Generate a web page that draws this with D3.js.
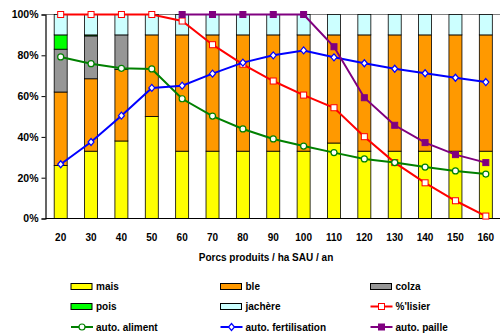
<!DOCTYPE html>
<html>
<head>
<meta charset="utf-8">
<script src="https://cdn.jsdelivr.net/npm/d3@7"></script>
<style>
  html, body { margin: 0; padding: 0; background: #fff; }
  svg { display: block; font-family: "Liberation Sans", Arial, sans-serif; }
</style>
</head>
<body>
<svg id="chart" width="500" height="335"></svg>
<script>
// Porcs produits par ha de SAU : assolement et autonomies
const categories = ["20","30","40","50","60","70","80","90","100","110","120","130","140","150","160"];

// Assolement (% de la SAU)
const mais    = [26, 33, 38, 50, 33, 33, 33, 33, 33, 37, 33, 33, 33, 33, 33];
const ble     = [36, 35.5, 35, 40, 57, 57, 57, 57, 57, 53, 57, 57, 57, 57, 57];
const colza   = [21, 21, 17, 0, 0, 0, 0, 0, 0, 0, 0, 0, 0, 0, 0];
const pois    = [7, 0.5, 0, 0, 0, 0, 0, 0, 0, 0, 0, 0, 0, 0, 0];
const jachere = [10, 10, 10, 10, 10, 10, 10, 10, 10, 10, 10, 10, 10, 10, 10];

// Indicateurs (%)
const lisier        = [100, 100, 100, 100, 96.8, 85.2, 75.6, 67.4, 60.5, 54.3, 40.1, 27.4, 17.5, 8.7, 1.2];
const autoAliment   = [79.2, 75.9, 73.6, 73.3, 58.7, 50.2, 43.9, 39, 35.5, 32.3, 29.2, 27.4, 25.2, 23.3, 21.8];
const autoFertil    = [26.6, 37.5, 50.4, 64, 65.1, 71, 76.4, 80, 82.4, 79, 76.1, 73.4, 71.2, 69, 66.9];
const autoPaille    = [null, null, null, null, 100, 100, 100, 100, 100, 84.2, 59.2, 45.7, 37.2, 31.3, 27.4];

const yTicks = [0, 20, 40, 60, 80, 100];
const xTitle = "Porcs produits / ha SAU / an";

const barSeries = [
  { name: "mais",    values: mais,    color: "#FFFF00" },
  { name: "ble",     values: ble,     color: "#FF9900" },
  { name: "colza",   values: colza,   color: "#969696" },
  { name: "pois",    values: pois,    color: "#00FF00" },
  { name: "jachère", values: jachere, color: "#CCFFFF" }
];
const lineSeries = [
  { name: "%'lisier",            values: lisier,      color: "#FF0000", marker: "square", fill: "#fff" },
  { name: "auto. aliment",       values: autoAliment, color: "#008000", marker: "circle", fill: "#fff" },
  { name: "auto. fertilisation", values: autoFertil,  color: "#0000FF", marker: "diamond", fill: "#fff" },
  { name: "auto. paille",        values: autoPaille,  color: "#800080", marker: "square", fill: "#800080" }
];

const svg = d3.select("#chart");
const plot = { left: 45.5, right: 501, top: 14.5, bottom: 218.5 };

const inner = 0.572;
const x = d3.scaleBand().domain(categories).range([plot.left, plot.right])
  .paddingInner(inner).paddingOuter(inner / 2);
const y = d3.scaleLinear().domain([0, 100]).range([plot.bottom, plot.top]);

// Stacked bars
const rows = categories.map((c, i) => {
  const r = { cat: c };
  barSeries.forEach(s => r[s.name] = s.values[i]);
  return r;
});
const stack = d3.stack().keys(barSeries.map(s => s.name))(rows);

// Plot frame (top border)
svg.append("line").attr("x1", plot.left).attr("x2", 500)
  .attr("y1", plot.top).attr("y2", plot.top)
  .attr("stroke", "#808080").attr("stroke-width", 1);

stack.forEach((layer, li) => {
  svg.append("g").selectAll("rect").data(layer).join("rect")
    .filter(d => d[1] - d[0] > 0)
    .attr("x", d => x(d.data.cat))
    .attr("width", x.bandwidth())
    .attr("y", d => y(d[1]))
    .attr("height", d => y(d[0]) - y(d[1]))
    .attr("fill", barSeries[li].color)
    .attr("stroke", "#000").attr("stroke-width", 0.8);
});

// Axes
const yAxis = svg.append("g").attr("transform", `translate(${plot.left},0)`)
  .call(d3.axisLeft(y).tickValues(yTicks).tickSize(4).tickFormat(d => d + "%"));
yAxis.select(".domain").attr("stroke", "#000").attr("stroke-width", 1.2);
yAxis.selectAll(".tick line").attr("stroke", "#000");
yAxis.selectAll(".tick text").attr("x", -7)
  .style("font-size", "10.5px").style("font-weight", "bold").attr("fill", "#000");

svg.append("line").attr("x1", plot.left).attr("x2", 500)
  .attr("y1", plot.bottom).attr("y2", plot.bottom)
  .attr("stroke", "#000").attr("stroke-width", 1.2);

svg.append("g").selectAll("text").data(categories).join("text")
  .attr("x", d => x(d) + x.bandwidth() / 2)
  .attr("y", 237.5)
  .attr("dy", "0.35em")
  .attr("text-anchor", "middle")
  .style("font-size", "10px").style("font-weight", "bold")
  .text(d => d);

svg.append("text").attr("x", 266).attr("y", 257).attr("dy", "0.35em")
  .attr("text-anchor", "middle")
  .style("font-size", "10px").style("font-weight", "bold")
  .text(xTitle);

// Markers
function drawMarker(g, type, cx, cy, color, fill) {
  if (type === "square") {
    g.append("rect").attr("x", cx - 3).attr("y", cy - 3).attr("width", 6).attr("height", 6)
      .attr("fill", fill).attr("stroke", color).attr("stroke-width", 1);
  } else if (type === "circle") {
    g.append("circle").attr("cx", cx).attr("cy", cy).attr("r", 3)
      .attr("fill", fill).attr("stroke", color).attr("stroke-width", 1.2);
  } else {
    g.append("path").attr("d", `M${cx},${cy - 3.5}L${cx + 3},${cy}L${cx},${cy + 3.5}L${cx - 3},${cy}Z`)
      .attr("fill", fill).attr("stroke", color).attr("stroke-width", 1.2);
  }
}

const cx = c => x(c) + x.bandwidth() / 2;
lineSeries.forEach(s => {
  const pts = categories.map((c, i) => ({ c, v: s.values[i] }));
  const line = d3.line().defined(d => d.v !== null).x(d => cx(d.c)).y(d => y(d.v));
  const g = svg.append("g");
  g.append("path").datum(pts).attr("d", line)
    .attr("fill", "none").attr("stroke", s.color).attr("stroke-width", 2);
  pts.filter(d => d.v !== null).forEach(d => drawMarker(g, s.marker, cx(d.c), y(d.v), s.color, s.fill));
});

// Legend
const legendItems = [
  { kind: "bar", s: barSeries[0] }, { kind: "bar", s: barSeries[1] }, { kind: "bar", s: barSeries[2] },
  { kind: "bar", s: barSeries[3] }, { kind: "bar", s: barSeries[4] }, { kind: "line", s: lineSeries[0] },
  { kind: "line", s: lineSeries[1] }, { kind: "line", s: lineSeries[2] }, { kind: "line", s: lineSeries[3] }
];
const colX = [71, 220.5, 370.5];
const rowY = [286.5, 306.5, 327];
legendItems.forEach((it, i) => {
  const lx = colX[i % 3], ly = rowY[Math.floor(i / 3)];
  const g = svg.append("g");
  if (it.kind === "bar") {
    g.append("rect").attr("x", lx).attr("y", ly - 3).attr("width", 21).attr("height", 6)
      .attr("fill", it.s.color).attr("stroke", "#000").attr("stroke-width", 1);
  } else {
    g.append("line").attr("x1", lx).attr("x2", lx + 22).attr("y1", ly).attr("y2", ly)
      .attr("stroke", it.s.color).attr("stroke-width", 2);
    drawMarker(g, it.s.marker, lx + 11, ly, it.s.color, it.s.fill);
  }
  g.append("text").attr("x", lx + 25).attr("y", ly).attr("dy", "0.35em")
    .style("font-size", "10px").style("font-weight", "bold")
    .text(it.s.name);
});
</script>
</body>
</html>
